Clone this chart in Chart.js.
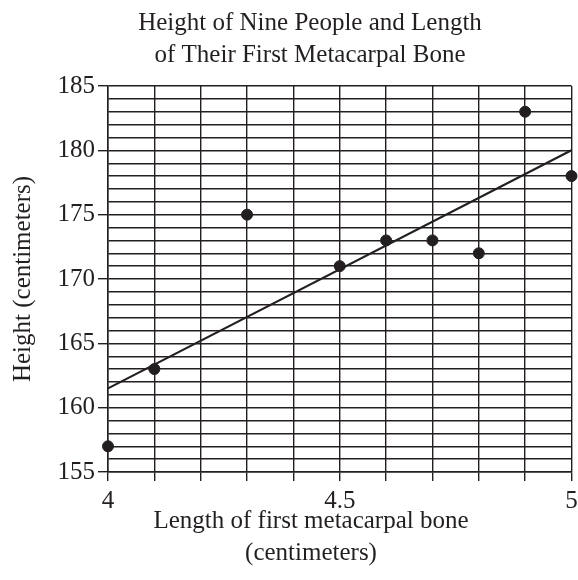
<!DOCTYPE html>
<html lang="en">
<head>
    <meta charset="UTF-8">
    <title>Height of Nine People and Length of Their First Metacarpal Bone</title>
    <script src="https://cdn.jsdelivr.net/npm/chart.js"></script>
    <style>
        html, body { margin: 0; padding: 0; background: #fff; }
        #wrap { width: 578px; height: 580px; position: relative; }
    </style>
</head>
<body>
    <div id="wrap">
        <canvas id="boneChart" width="578" height="580"></canvas>
    </div>

    <script>
// donnees
const boneLength = [4, 4.1, 4.3, 4.5, 4.6, 4.7, 4.8, 4.9, 5];
const height = [157, 163, 175, 171, 173, 173, 172, 183, 178];
// droite d'ajustement (extremites)
const fitX = [4, 5];
const fitY = [161.5, 180];

const titleLines = ['Height of Nine People and Length', 'of Their First Metacarpal Bone'];
const xTitleLines = ['Length of first metacarpal bone', '(centimeters)'];
const yTitle = 'Height (centimeters)';

const ink = '#231f20';
const serif = '"Liberation Serif", "DejaVu Serif", serif';

// titres dessines a la main pour les centrer comme l'original
const textPlugin = {
    id: 'texts',
    afterDraw(chart) {
        const c = chart.ctx;
        c.save();
        c.fillStyle = ink;
        c.font = '25px ' + serif;
        c.textAlign = 'center';
        c.textBaseline = 'middle';
        c.fillText(titleLines[0], 310, 23);
        c.fillText(titleLines[1], 310, 55);
        c.fillText(xTitleLines[0], 311, 521);
        c.fillText(xTitleLines[1], 311, 553);
        c.restore();
    }
};

const ctx = document.getElementById('boneChart').getContext('2d');
const boneChart = new Chart(ctx, {
    type: 'scatter',
    data: {
        datasets: [
            {
                label: 'People',
                data: boneLength.map((x, i) => ({ x: x, y: height[i] })),
                backgroundColor: ink,
                borderColor: ink,
                pointRadius: 5.5,
                pointHoverRadius: 5.5,
                clip: false
            },
            {
                label: 'Fit',
                data: fitX.map((x, i) => ({ x: x, y: fitY[i] })),
                showLine: true,
                borderColor: ink,
                borderWidth: 2.2,
                pointRadius: 0
            }
        ]
    },
    options: {
        responsive: false,
        animation: false,
        layout: { padding: { left: 0, right: 5, top: 86, bottom: 0 } },
        plugins: {
            legend: { display: false },
            tooltip: { enabled: false }
        },
        scales: {
            x: {
                type: 'linear',
                min: 4,
                max: 5,
                afterFit: s => { s.height = 108; s.paddingRight = 0; s.paddingLeft = 0; },
                ticks: {
                    stepSize: 0.1,
                    padding: 5,
                    color: ink,
                    font: { family: serif, size: 25 },
                    maxRotation: 0,
                    autoSkip: false,
                    callback: v => (Math.round(v * 10) % 5 === 0 ? String(Math.round(v * 10) / 10) : '')
                },
                grid: {
                    color: ink,
                    lineWidth: 1.4,
                    tickLength: 9,
                    tickColor: ink
                },
                border: { color: ink, width: 1.5 }
            },
            y: {
                min: 155,
                max: 185,
                afterFit: s => { s.width = 108; },
                ticks: {
                    stepSize: 1,
                    padding: 3,
                    color: ink,
                    font: { family: serif, size: 25 },
                    autoSkip: false,
                    callback: v => (v % 5 === 0 ? String(v) : '')
                },
                grid: {
                    color: ink,
                    lineWidth: 1.4,
                    tickLength: 10,
                    tickColor: c => (c.tick && c.tick.value % 5 === 0 ? ink : 'rgba(0,0,0,0)')
                },
                border: { color: ink, width: 1.5 },
                title: {
                    display: true,
                    text: yTitle,
                    color: ink,
                    font: { family: serif, size: 25 },
                    padding: { top: 8, bottom: 0 }
                }
            }
        }
    },
    plugins: [textPlugin]
});
    </script>
</body>
</html>
